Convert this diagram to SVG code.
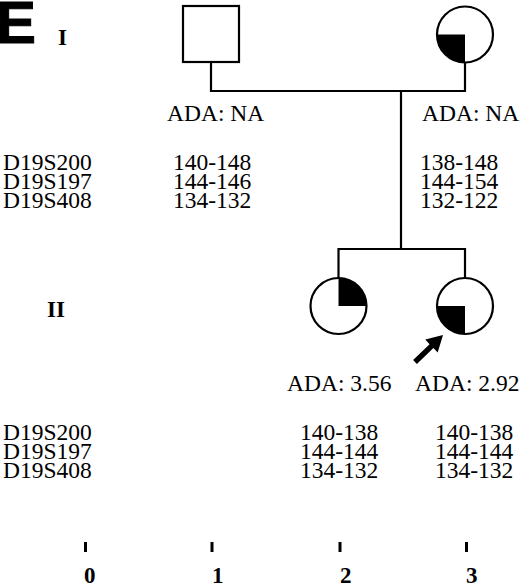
<svg xmlns="http://www.w3.org/2000/svg" width="520" height="586" viewBox="0 0 520 586">
<style>
.sym{fill:#fff;stroke:#000;stroke-width:2.2}
.q{fill:#000}
.ln{fill:none;stroke:#000;stroke-width:2.2}
.t{font-family:"Liberation Serif","Times New Roman",serif;font-size:23.5px;fill:#000}
.b{font-family:"Liberation Serif","Times New Roman",serif;font-weight:bold;font-size:23px;fill:#000}
.tick{fill:#000}
</style>
<rect width="520" height="586" fill="#fff"/>
<text x="-4" y="43" font-family="Liberation Sans,Arial,sans-serif" font-weight="bold" font-size="60" stroke="#000" stroke-width="1">E</text>
<text class="b" x="58" y="45">I</text>
<text class="b" x="47" y="317">II</text>
<g id="connectors">
<polyline class="ln" points="211,62 211,91 465,91 465,62.5"/>
<line class="ln" x1="401" y1="91" x2="401" y2="249"/>
<polyline class="ln" points="338.5,278 338.5,249 465,249 465,278"/>
</g>
<g id="I-1">
<rect class="sym" x="183" y="6" width="56" height="56"/>
<text class="t" x="167" y="121">ADA: NA</text>
<text class="t" x="173" y="170">140-148</text>
<text class="t" x="173" y="189">144-146</text>
<text class="t" x="173" y="208">134-132</text>
</g>
<g id="I-2">
<circle class="sym" cx="465" cy="34.5" r="28"/>
<path class="q" d="M465,34.5 L437,34.5 A28,28 0 0 0 465,62.5 Z"/>
<text class="t" x="422" y="121">ADA: NA</text>
<text class="t" x="420" y="170">138-148</text>
<text class="t" x="420" y="189">144-154</text>
<text class="t" x="420" y="208">132-122</text>
</g>
<g id="II-1">
<circle class="sym" cx="338.5" cy="306" r="28"/>
<path class="q" d="M338.5,306 L338.5,278 A28,28 0 0 1 366.5,306 Z"/>
<text class="t" x="287" y="391">ADA: 3.56</text>
<text class="t" x="300" y="440">140-138</text>
<text class="t" x="300" y="459">144-144</text>
<text class="t" x="300" y="478">134-132</text>
</g>
<g id="II-2">
<circle class="sym" cx="465" cy="306" r="28"/>
<path class="q" d="M465,306 L437,306 A28,28 0 0 0 465,334 Z"/>
<polygon class="q" points="443,335 437.7,352.6 433.4,348 416.9,364 413.1,360.1 429.6,344.2 425.3,339.6"/>
<text class="t" x="415" y="391">ADA: 2.92</text>
<text class="t" x="435" y="440">140-138</text>
<text class="t" x="435" y="459">144-144</text>
<text class="t" x="435" y="478">134-132</text>
</g>
<g id="markers">
<text class="t" x="3" y="170">D19S200</text>
<text class="t" x="3" y="189">D19S197</text>
<text class="t" x="3" y="208">D19S408</text>
<text class="t" x="3" y="440">D19S200</text>
<text class="t" x="3" y="459">D19S197</text>
<text class="t" x="3" y="478">D19S408</text>
</g>
<g id="scale">
<rect class="tick" x="84" y="542" width="3" height="10"/>
<rect class="tick" x="210.5" y="542" width="3" height="10"/>
<rect class="tick" x="338.5" y="542" width="3" height="10"/>
<rect class="tick" x="465" y="542" width="3" height="10"/>
<text class="b" x="84" y="583">0</text>
<text class="b" x="212" y="583">1</text>
<text class="b" x="340" y="583">2</text>
<text class="b" x="466" y="583">3</text>
</g>
</svg>
